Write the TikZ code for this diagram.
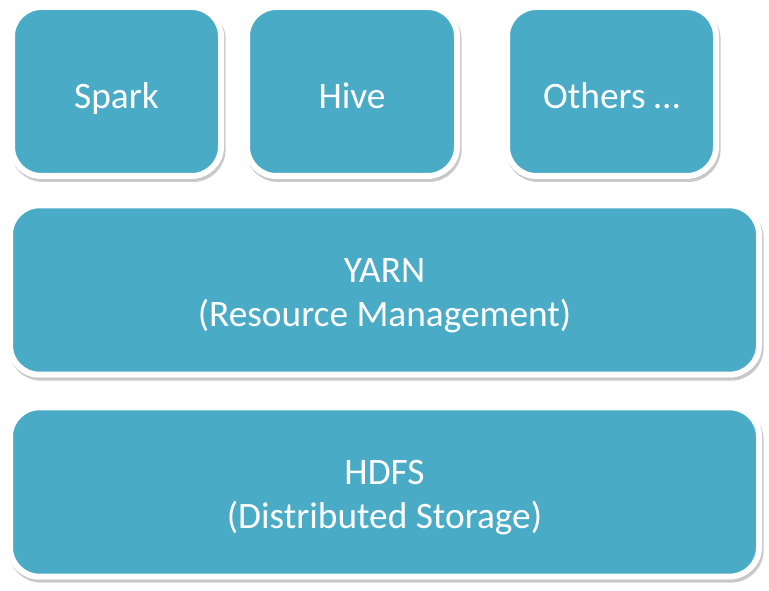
\documentclass[tikz,border=0pt]{standalone}
\usepackage{fontspec}
\setmainfont{Carlito}
\usepackage{tikz}
\usetikzlibrary{shadows}
\definecolor{layerblue}{RGB}{74,171,198}

\begin{document}
\begin{tikzpicture}[x=0.75pt, y=-0.75pt,
  layer/.style={rectangle, rounded corners=22pt, fill=layerblue, draw=white, line width=4.5pt,
    text=white, font=\fontsize{28}{32.5}\selectfont, align=center,
    drop shadow={shadow xshift=1.2pt, shadow yshift=-2.2pt, opacity=0.3, fill=black!70, draw=black!70, line width=4.5pt}},
  app/.style={layer, minimum width=156.75pt, minimum height=126.75pt, text height=28pt, text depth=1.75pt},
  tier/.style={layer, minimum width=561.75pt, minimum height=127pt, text height=56.5pt, text depth=2pt}]

% fix the frame
\useasboundingbox (0,0) rectangle (769,591);

% draw the applications
\node (spark) [app] at (116.5,91.5) {Spark};
\node (hive) [app, minimum width=157.5pt] at (352,91.5) {Hive};
\node (others) [app] at (611.5,91.5) {Others \dots};

% draw the resource layer
\node (yarn) [tier] at (384.5,290) {YARN\\(Resource Management)};

% draw the storage layer
\node (hdfs) [tier] at (384.5,492) {HDFS\\(Distributed Storage)};

\end{tikzpicture}
\end{document}
